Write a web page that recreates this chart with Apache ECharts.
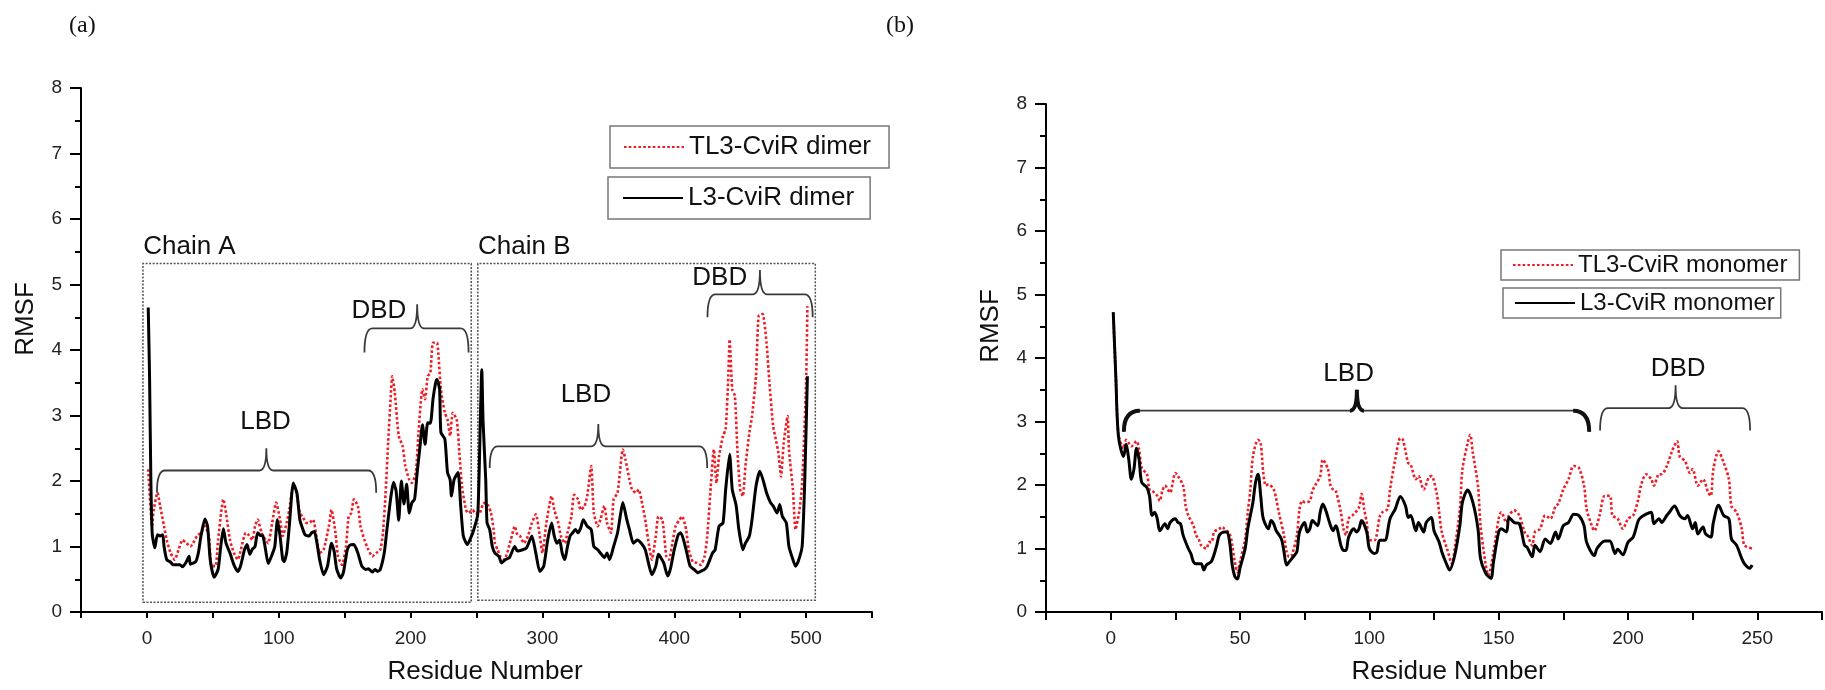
<!DOCTYPE html>
<html>
<head>
<meta charset="utf-8">
<script src="https://cdn.jsdelivr.net/npm/echarts@6/dist/echarts.min.js"></script>
<style>html,body{margin:0;padding:0;background:#fff}#c{width:1825px;height:690px}</style>
</head>
<body>
<div id="c"></div>
<script>
// ---------- DATA ----------
const panelLabels = ['(a)', '(b)'];
const seriesNames = ['TL3-CviR dimer', 'L3-CviR dimer', 'TL3-CviR monomer', 'L3-CviR monomer'];
const yTicks = [0, 1, 2, 3, 4, 5, 6, 7, 8];

// (a) dimer: [residue, RMSF]
const dimerL3 = [[1,4.65],[2,3.6],[3,2.0],[4,1.2],[6,0.98],[8,1.18],[10,1.16],[12,1.18],[13,1.0],[15,0.8],[18,0.76],[20,0.72],[25,0.72],[27,0.69],[30,0.77],[32,0.85],[33,0.73],[37,0.77],[39,0.9],[41,1.16],[44,1.42],[46,1.31],[48,0.8],[51,0.53],[54,0.65],[56,1.0],[58,1.27],[60,1.05],[63,0.9],[66,0.72],[69,0.62],[71,0.7],[74,0.95],[76,1.03],[78,0.88],[80,0.96],[82,1.0],[84,1.21],[86,1.17],[88,1.16],[90,0.95],[92,0.74],[95,0.88],[97,1.0],[99,1.41],[101,1.16],[103,0.8],[104,0.77],[106,0.9],[108,1.31],[111,1.97],[113,1.87],[114,1.79],[116,1.41],[118,1.28],[120,1.18],[123,1.16],[125,1.21],[127,1.23],[129,1.05],[131,0.8],[134,0.57],[137,0.7],[140,1.05],[142,0.93],[144,0.65],[147,0.52],[149,0.6],[152,0.95],[154,1.02],[157,1.03],[160,0.9],[163,0.7],[166,0.65],[168,0.66],[171,0.61],[173,0.65],[175,0.62],[177,0.65],[180,0.9],[182,1.25],[185,1.75],[187,1.98],[189,1.85],[191,1.4],[193,2.0],[195,1.65],[197,1.95],[199,1.51],[201,1.67],[203,1.72],[205,2.13],[207,2.5],[209,2.86],[211,2.56],[213,2.89],[215,2.88],[217,3.25],[219,3.5],[220,3.55],[222,3.4],[223,2.74],[226,2.64],[228,2.13],[230,2.02],[231,1.77],[233,2.02],[236,2.13],[238,1.62],[240,1.16],[243,1.03],[245,1.1],[248,1.26],[251,1.5],[253,3.0],[254,3.7],[255,2.9],[257,2.02],[258,1.36],[260,1.26],[262,1.0],[264,0.9],[267,0.85],[269,0.75],[272,0.8],[275,0.83],[279,1.0],[281,0.93],[285,0.95],[288,0.98],[292,1.16],[295,0.9],[298,0.62],[301,0.7],[304,1.1],[307,1.36],[309,1.16],[311,1.05],[313,1.1],[315,0.9],[317,0.8],[319,1.0],[321,1.16],[323,1.21],[325,1.26],[327,1.21],[329,1.28],[331,1.41],[334,1.31],[337,1.26],[339,1.0],[342,0.95],[344,0.9],[347,0.83],[349,0.9],[351,0.8],[354,1.0],[357,1.21],[359,1.46],[361,1.67],[364,1.41],[366,1.26],[369,1.05],[372,1.1],[375,1.05],[378,0.95],[381,0.7],[383,0.57],[386,0.7],[388,0.88],[392,0.75],[395,0.55],[397,0.65],[400,0.95],[403,1.18],[405,1.21],[409,0.95],[412,0.7],[415,0.65],[418,0.6],[420,0.62],[423,0.65],[425,0.7],[429,0.9],[431,0.95],[434,1.31],[437,1.36],[439,1.87],[442,2.41],[444,1.87],[447,1.62],[449,1.26],[452,0.95],[454,1.05],[457,1.16],[459,1.41],[462,1.92],[465,2.15],[468,1.97],[470,1.82],[473,1.67],[475,1.62],[478,1.51],[480,1.64],[482,1.46],[485,1.36],[487,1.0],[490,0.8],[492,0.7],[494,0.77],[497,1.0],[499,2.02],[501,3.6]];
const dimerTL3 = [[1,2.18],[4,1.31],[5,1.54],[8,1.82],[10,1.62],[13,1.31],[15,1.1],[18,0.9],[21,0.8],[24,0.95],[27,1.1],[30,1.05],[33,1.0],[35,1.05],[38,1.16],[41,1.21],[44,1.31],[47,1.16],[49,0.7],[52,0.7],[54,1.1],[58,1.72],[60,1.51],[63,1.1],[66,0.9],[69,0.8],[71,0.93],[75,1.21],[77,1.18],[80,1.1],[82,1.31],[84,1.41],[87,1.21],[90,1.1],[92,1.05],[95,1.36],[98,1.67],[101,1.41],[103,1.16],[106,1.36],[108,1.56],[111,1.92],[113,1.87],[116,1.51],[118,1.46],[121,1.36],[123,1.36],[126,1.41],[129,1.1],[131,0.9],[134,0.95],[138,1.31],[140,1.56],[143,1.21],[145,0.85],[148,0.72],[151,1.0],[153,1.46],[155,1.51],[157,1.72],[160,1.62],[162,1.31],[165,1.1],[168,0.95],[171,0.85],[174,0.9],[177,0.95],[179,1.2],[181,1.8],[183,2.6],[185,3.3],[186,3.6],[188,3.35],[191,2.69],[194,2.53],[196,2.23],[199,2.02],[201,1.97],[204,2.13],[206,2.74],[209,3.4],[211,3.25],[213,3.6],[215,3.65],[217,4.11],[220,4.11],[221,3.96],[223,3.4],[226,3.04],[228,2.94],[230,2.69],[232,3.04],[235,2.94],[237,2.43],[239,1.92],[242,1.56],[244,1.51],[247,1.56],[249,1.51],[252,1.5],[255,1.65],[257,1.67],[259,1.62],[261,1.51],[263,1.26],[264,1.05],[266,0.95],[268,0.85],[271,0.8],[276,1.1],[279,1.31],[281,1.18],[283,1.16],[286,1.05],[289,1.16],[292,1.36],[295,1.49],[298,1.16],[300,0.9],[303,1.36],[307,1.77],[309,1.56],[312,1.36],[314,1.16],[317,1.05],[319,1.21],[322,1.46],[324,1.79],[327,1.72],[329,1.56],[332,1.62],[334,1.77],[337,2.23],[339,1.51],[342,1.31],[344,1.41],[347,1.62],[349,1.36],[352,1.21],[354,1.72],[357,1.82],[361,2.48],[363,2.33],[366,2.02],[368,1.87],[371,1.82],[373,1.87],[376,1.62],[378,1.41],[381,1.0],[383,0.8],[386,1.16],[388,1.46],[391,1.41],[394,0.85],[396,0.8],[399,1.1],[401,1.31],[404,1.41],[406,1.46],[409,1.26],[411,0.95],[414,0.77],[417,0.75],[420,0.72],[423,0.85],[425,1.15],[428,2.0],[430,2.48],[432,1.97],[434,2.38],[437,2.69],[439,2.79],[441,3.6],[442,4.16],[444,3.4],[446,3.3],[448,2.43],[450,1.87],[452,1.77],[454,2.23],[457,2.74],[459,2.99],[462,3.6],[464,4.52],[467,4.55],[470,4.11],[472,3.55],[475,2.84],[477,2.64],[479,2.43],[481,2.07],[483,2.58],[486,2.99],[487,2.48],[490,1.87],[492,1.26],[495,1.56],[497,1.97],[500,3.5],[501,4.67]];

// (b) monomer: [residue, RMSF]
const monoL3 = [[1,4.72],[2,3.7],[3,2.77],[5,2.45],[6,2.64],[7,2.4],[8,2.09],[9,2.25],[10,2.58],[11,2.4],[12,2.04],[14,1.96],[15,1.83],[16,1.52],[17,1.57],[18,1.47],[19,1.28],[21,1.39],[22,1.31],[23,1.41],[25,1.47],[26,1.41],[27,1.39],[28,1.21],[30,1.0],[31,0.92],[32,0.79],[33,0.76],[35,0.76],[36,0.66],[37,0.74],[39,0.8],[41,1.05],[42,1.21],[44,1.26],[45,1.26],[46,1.1],[47,0.74],[48,0.56],[49,0.52],[50,0.69],[52,1.0],[53,1.31],[54,1.52],[55,1.73],[56,2.04],[57,2.17],[58,1.83],[59,1.47],[61,1.31],[62,1.44],[63,1.39],[64,1.28],[66,1.15],[67,0.95],[68,0.74],[69,0.79],[71,0.89],[72,0.95],[73,1.26],[75,1.41],[76,1.26],[77,1.31],[78,1.44],[80,1.36],[81,1.57],[82,1.7],[83,1.62],[85,1.36],[86,1.28],[87,1.36],[89,1.05],[90,0.97],[91,0.97],[92,1.18],[94,1.31],[95,1.26],[96,1.31],[97,1.44],[99,1.26],[100,1.0],[102,0.92],[103,0.95],[104,1.13],[106,1.13],[108,1.47],[110,1.62],[112,1.82],[114,1.67],[115,1.49],[116,1.52],[118,1.28],[119,1.41],[121,1.26],[122,1.41],[124,1.49],[125,1.28],[127,1.1],[128,0.95],[130,0.74],[131,0.66],[133,0.89],[135,1.36],[136,1.73],[138,1.92],[140,1.73],[142,1.31],[143,0.84],[145,0.61],[147,0.53],[148,0.79],[150,1.26],[151,1.31],[153,1.26],[154,1.49],[156,1.41],[158,1.39],[160,1.05],[161,1.02],[163,0.87],[164,1.05],[166,0.95],[168,1.15],[170,1.08],[172,1.26],[173,1.15],[175,1.36],[177,1.41],[179,1.54],[181,1.52],[183,1.36],[184,1.1],[187,0.89],[188,1.0],[191,1.12],[193,1.12],[195,0.92],[196,0.99],[198,0.9],[200,1.1],[202,1.18],[204,1.44],[205,1.49],[207,1.54],[209,1.57],[210,1.39],[212,1.47],[213,1.41],[215,1.52],[216,1.57],[218,1.67],[220,1.52],[222,1.47],[223,1.52],[225,1.31],[226,1.41],[227,1.23],[229,1.34],[230,1.23],[232,1.18],[233,1.41],[235,1.68],[237,1.52],[239,1.47],[240,1.15],[242,1.05],[244,0.84],[245,0.76],[247,0.69],[248,0.74]];
const monoTL3 = [[1,4.72],[2,3.7],[3,2.8],[5,2.58],[6,2.71],[7,2.66],[8,2.61],[10,2.69],[11,2.56],[12,2.27],[14,2.17],[15,1.93],[16,1.91],[18,1.83],[19,1.75],[20,1.91],[21,1.99],[23,1.88],[24,2.04],[25,2.19],[26,2.14],[28,1.99],[29,1.67],[30,1.52],[32,1.36],[33,1.21],[34,1.15],[35,1.05],[37,1.0],[38,1.1],[39,1.1],[40,1.26],[42,1.31],[43,1.34],[44,1.31],[46,1.23],[47,1.05],[48,0.79],[49,0.63],[50,0.79],[52,1.15],[53,1.57],[54,1.93],[55,2.45],[57,2.71],[58,2.66],[59,2.19],[60,1.99],[61,2.01],[63,1.93],[64,1.78],[65,1.57],[67,1.21],[68,0.95],[69,0.87],[70,0.89],[72,1.21],[73,1.62],[74,1.75],[75,1.73],[77,1.75],[78,1.91],[79,1.99],[81,2.14],[82,2.4],[84,2.25],[85,1.99],[86,1.93],[87,1.91],[89,1.57],[90,1.31],[91,1.21],[92,1.47],[94,1.54],[96,1.65],[97,1.86],[98,1.62],[99,1.41],[100,1.13],[102,1.13],[104,1.5],[105,1.57],[107,1.62],[108,1.93],[110,2.4],[112,2.74],[113,2.71],[115,2.35],[116,2.32],[118,2.09],[119,2.14],[121,1.93],[123,2.12],[124,2.14],[126,1.88],[127,1.57],[128,1.26],[130,1.0],[132,0.76],[133,1.0],[135,1.62],[136,2.25],[138,2.66],[139,2.79],[140,2.51],[142,1.99],[143,1.36],[145,0.74],[146,0.58],[148,0.95],[150,1.47],[151,1.57],[153,1.41],[154,1.52],[156,1.6],[158,1.52],[160,1.26],[161,1.21],[163,1.05],[164,1.26],[166,1.31],[168,1.52],[170,1.47],[172,1.67],[173,1.7],[175,1.93],[177,2.09],[179,2.3],[181,2.27],[183,1.99],[184,1.62],[186,1.36],[187,1.28],[189,1.52],[191,1.83],[193,1.83],[194,1.52],[196,1.47],[198,1.31],[200,1.47],[202,1.52],[204,1.78],[205,1.99],[207,2.17],[209,2.09],[210,1.99],[212,2.17],[213,2.17],[215,2.3],[217,2.53],[219,2.69],[220,2.45],[222,2.38],[224,2.19],[225,2.25],[227,1.99],[229,2.09],[231,1.88],[232,1.83],[233,2.25],[235,2.53],[237,2.35],[239,2.09],[240,1.67],[242,1.57],[244,1.31],[245,1.05],[248,1.0]];

// chain boxes in (a)
const chainNames = ['Chain A', 'Chain B'];
const chainStart = [-3, 251];
const chainEnd = [246, 507];
const chainBottom = [0.15, 0.18];
const chainTop = [5.32, 5.32];

// domain braces: label, x-start, x-end, x-tip, level, foot, peak, text-x, text-y
const dimerBraceLabel = ['LBD', 'DBD', 'LBD', 'DBD'];
const dimerBraceStart = [7.6, 165, 260, 425.2];
const dimerBraceEnd = [173.9, 244, 425, 505];
const dimerBraceTip = [90.6, 205, 342.4, 465];
const dimerBraceLevel = [2.16, 4.33, 2.53, 4.85];
const dimerBraceFoot = [1.82, 3.96, 2.2, 4.5];
const dimerBracePeak = [2.5, 4.7, 2.87, 5.22];
const dimerBraceTextX = [90, 176, 333, 434.5];
const dimerBraceTextY = [2.91, 4.6, 3.32, 5.1];
const dimerBraceBold = [0, 0, 0, 0];

const monoBraceLabel = ['LBD', 'DBD'];
const monoBraceStart = [5.1, 189.2];
const monoBraceEnd = [185, 247.2];
const monoBraceTip = [95.2, 218.4];
const monoBraceLevel = [3.17, 3.21];
const monoBraceFoot = [2.84, 2.86];
const monoBracePeak = [3.5, 3.57];
const monoBraceTextX = [92, 219.4];
const monoBraceTextY = [3.75, 3.83];
const monoBraceBold = [1, 0];

// ---------- CHART ----------
const FONT = 'Liberation Sans, Arial, Helvetica, sans-serif';
const RED = '#ee1c24';

function braceData(start, end, tip, level, foot, peak, tx, ty) {
  return start.map((s, i) => [s, level[i], end[i], tip[i], foot[i], peak[i], tx[i], ty[i]]);
}
function makeBraceRender(labels, bold) {
  return function (params, api) {
    const x1 = api.value(0), lv = api.value(1), x2 = api.value(2), tip = api.value(3);
    const ft = api.value(4), pk = api.value(5), tx = api.value(6), ty = api.value(7);
    const a = api.coord([x1, ft]), b = api.coord([x1, lv]);
    const c = api.coord([x2, lv]), d = api.coord([x2, ft]);
    const t = api.coord([tip, pk]), tl = api.coord([tip, lv]);
    const txt = api.coord([tx, ty]);
    const isBold = bold[params.dataIndex] === 1;
    const r = isBold ? 16 : 8, rt = 7;
    const p = 'M' + a[0] + ' ' + a[1] +
      ' Q' + b[0] + ' ' + b[1] + ' ' + (b[0] + r) + ' ' + b[1] +
      ' L' + (tl[0] - rt) + ' ' + tl[1] +
      ' Q' + tl[0] + ' ' + tl[1] + ' ' + t[0] + ' ' + t[1] +
      ' Q' + tl[0] + ' ' + tl[1] + ' ' + (tl[0] + rt) + ' ' + tl[1] +
      ' L' + (c[0] - r) + ' ' + c[1] +
      ' Q' + c[0] + ' ' + c[1] + ' ' + d[0] + ' ' + d[1];
    const children = [
      { type: 'path', shape: { pathData: p }, style: { stroke: '#3a3a3a', fill: 'none', lineWidth: 1.8 } },
      { type: 'text', style: { text: labels[params.dataIndex], x: txt[0], y: txt[1], align: 'center', verticalAlign: 'middle', fontSize: 26, fontFamily: FONT, fill: '#111' } }
    ];
    if (isBold) {
      const ends = 'M' + a[0] + ' ' + a[1] + ' Q' + b[0] + ' ' + b[1] + ' ' + (b[0] + r) + ' ' + b[1] +
        ' M' + (c[0] - r) + ' ' + c[1] + ' Q' + c[0] + ' ' + c[1] + ' ' + d[0] + ' ' + d[1] +
        ' M' + (tl[0] - rt) + ' ' + tl[1] + ' Q' + tl[0] + ' ' + tl[1] + ' ' + t[0] + ' ' + t[1] +
        ' Q' + tl[0] + ' ' + tl[1] + ' ' + (tl[0] + rt) + ' ' + tl[1];
      children.push({ type: 'path', shape: { pathData: ends }, style: { stroke: '#111', fill: 'none', lineWidth: 4 } });
    }
    return { type: 'group', children: children };
  };
}

function xAxisCfg(idx, min, max, interval, labelStep, tickLen, namePad) {
  return {
    type: 'value', gridIndex: idx, min: min, max: max, interval: interval,
    name: 'Residue Number', nameLocation: 'middle', nameGap: 47,
    nameTextStyle: { fontSize: 26, fontFamily: FONT, color: '#111', padding: namePad },
    axisLine: { show: true, onZero: false, lineStyle: { color: '#000', width: 2 } },
    axisTick: { show: true, inside: false, length: tickLen, lineStyle: { color: '#000', width: 2 } },
    axisLabel: {
      show: true, margin: 17, fontSize: 19, fontFamily: FONT, color: '#222',
      formatter: v => (v >= 0 && Math.abs(v % labelStep) < 1e-9) ? String(v) : ''
    },
    splitLine: { show: false }
  };
}
function yAxisCfg(idx, namePad) {
  return {
    type: 'value', gridIndex: idx, min: yTicks[0], max: yTicks[yTicks.length - 1], interval: 1,
    name: 'RMSF', nameLocation: 'middle', nameGap: 42,
    nameTextStyle: { fontSize: 26, fontFamily: FONT, color: '#111', padding: namePad },
    axisLine: { show: true, onZero: false, lineStyle: { color: '#000', width: 2 } },
    axisTick: { show: true, length: 11, lineStyle: { color: '#000', width: 2 } },
    minorTick: { show: true, splitNumber: 2, length: 6, lineStyle: { color: '#000', width: 2 } },
    axisLabel: { show: true, margin: 19, fontSize: 19, fontFamily: FONT, color: '#222' },
    splitLine: { show: false }, minorSplitLine: { show: false }
  };
}
function legendCfg(name, left, top, padding, fontSize) {
  return {
    data: [name], left: left, top: top, orient: 'horizontal',
    itemWidth: 60, itemHeight: fontSize, padding: padding, selectedMode: false,
    borderColor: '#777', borderWidth: 1.5, backgroundColor: '#fff',
    itemStyle: { color: 'rgba(0,0,0,0)', borderColor: 'rgba(0,0,0,0)', borderWidth: 0, opacity: 0 },
    textStyle: { fontSize: fontSize, fontFamily: FONT, color: '#111' }
  };
}
const redLine = { color: RED, width: 2.6, type: [2.6, 2.2] };
const blackLine = { color: '#000', width: 3 };

const option = {
  animation: false,
  backgroundColor: '#fff',
  title: [
    { text: panelLabels[0], left: 64, top: 9, textStyle: { fontFamily: 'Liberation Serif, Times New Roman, serif', fontSize: 24, fontWeight: 'normal', color: '#111' } },
    { text: panelLabels[1], left: 881, top: 9, textStyle: { fontFamily: 'Liberation Serif, Times New Roman, serif', fontSize: 24, fontWeight: 'normal', color: '#111' } }
  ],
  legend: [
    legendCfg(seriesNames[0], 610, 126, [8, 18, 8, 13], 26),
    legendCfg(seriesNames[1], 608, 177, [8, 16, 8, 14], 26),
    legendCfg(seriesNames[2], 1501, 250, [3, 12, 3, 11], 24),
    legendCfg(seriesNames[3], 1503, 288, [3, 6, 3, 11], 24)
  ],
  grid: [
    { left: 81, right: 953, top: 88, bottom: 78, containLabel: false },
    { left: 1046, right: -5, top: 104, bottom: 73, containLabel: false }
  ],
  xAxis: [
    xAxisCfg(0, -50, 550, 50, 100, 6, [0, 0, 0, 17]),
    xAxisCfg(1, -25, 275, 25, 50, 8, [0, 0, 0, 30])
  ],
  yAxis: [
    yAxisCfg(0, [0, 0, 0, 62]),
    yAxisCfg(1, [0, 0, 0, 64])
  ],
  series: [
    {
      name: seriesNames[0], type: 'line', xAxisIndex: 0, yAxisIndex: 0, data: dimerTL3,
      showSymbol: false, symbol: 'none', smooth: 0.2, lineStyle: redLine, itemStyle: { color: RED }, z: 2,
      markArea: {
        silent: true,
        itemStyle: { color: 'rgba(0,0,0,0)', borderColor: '#555', borderWidth: 1.5, borderType: [2, 1.5] },
        label: { show: true, position: [1, -29], fontSize: 26, fontFamily: FONT, color: '#111' },
        data: chainNames.map((n, i) => [
          { name: n, xAxis: chainStart[i], yAxis: chainBottom[i] },
          { xAxis: chainEnd[i], yAxis: chainTop[i] }
        ])
      }
    },
    {
      name: seriesNames[1], type: 'line', xAxisIndex: 0, yAxisIndex: 0, data: dimerL3,
      showSymbol: false, symbol: 'none', smooth: 0.2, lineStyle: blackLine, itemStyle: { color: '#000' }, z: 3
    },
    {
      name: seriesNames[2], type: 'line', xAxisIndex: 1, yAxisIndex: 1, data: monoTL3,
      showSymbol: false, symbol: 'none', smooth: 0.3, lineStyle: redLine, itemStyle: { color: RED }, z: 2
    },
    {
      name: seriesNames[3], type: 'line', xAxisIndex: 1, yAxisIndex: 1, data: monoL3,
      showSymbol: false, symbol: 'none', smooth: 0.3, lineStyle: blackLine, itemStyle: { color: '#000' }, z: 3
    },
    {
      type: 'custom', xAxisIndex: 0, yAxisIndex: 0, silent: true, clip: false, z: 4,
      data: braceData(dimerBraceStart, dimerBraceEnd, dimerBraceTip, dimerBraceLevel, dimerBraceFoot, dimerBracePeak, dimerBraceTextX, dimerBraceTextY),
      renderItem: makeBraceRender(dimerBraceLabel, dimerBraceBold)
    },
    {
      type: 'custom', xAxisIndex: 1, yAxisIndex: 1, silent: true, clip: false, z: 4,
      data: braceData(monoBraceStart, monoBraceEnd, monoBraceTip, monoBraceLevel, monoBraceFoot, monoBracePeak, monoBraceTextX, monoBraceTextY),
      renderItem: makeBraceRender(monoBraceLabel, monoBraceBold)
    }
  ]
};
const chart = echarts.init(document.getElementById('c'), null, { renderer: 'canvas' });
chart.setOption(option);
</script>
</body>
</html>
